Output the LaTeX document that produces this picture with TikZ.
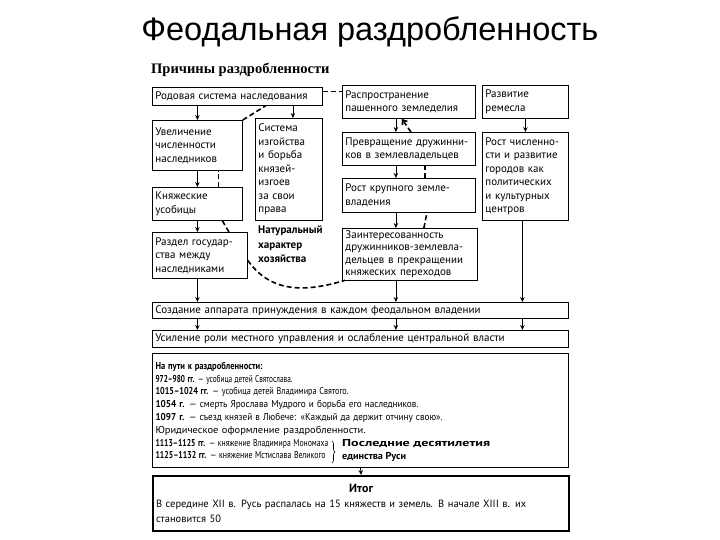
\documentclass[tikz,border=0pt]{standalone}
\usepackage{fontspec}
\setmainfont{PT Sans}
\newfontfamily\titelschrift{Liberation Sans}
\newfontfamily\kopfschrift{Liberation Serif}
\usepackage{graphicx}
\usepackage{tikz}
\usetikzlibrary{arrows.meta,positioning,calc,decorations.pathreplacing}
% Zeile auf feste Breite bringen
\newcommand{\zeile}[2]{\resizebox{#1}{\height}{#2}}
\tikzset{
    kasten/.style={
        rectangle,
        draw,
        anchor=north west,
        align=left,
        inner xsep=3pt,
        inner ysep=2pt,
        line width=0.8pt,
        font=\fontsize{11}{13.5}\selectfont
    },
    breitkasten/.style={kasten, text width=410pt, minimum width=416pt},
    pfeil/.style={-{Stealth[length=5pt,width=4.5pt]}, line width=0.8pt},
    strich/.style={dash pattern=on 5pt off 3pt, line width=1.6pt},
    strichpfeil/.style={strich, -{Straight Barb[length=4pt,width=6pt]}}
}

\begin{document}
\begin{tikzpicture}[x=1pt, y=-1pt]
    \useasboundingbox (0,0) rectangle (720,540);

    \node[font=\titelschrift\fontsize{32.5}{36}\selectfont] (titel) at (370,32)
        {Феодальная раздробленность};
    \node[anchor=west, inner sep=0pt, font=\kopfschrift\bfseries\fontsize{14.5}{16}\selectfont] (ursachen) at (151,70)
        {Причины раздробленности};

    % linke Spalte
    \node[kasten, text width=164pt, minimum width=170pt, minimum height=18pt] (rodovaya) at (152,87)
        {Родовая система наследования};
    \node[kasten, text width=84pt, minimum width=90pt, minimum height=50pt] (uvelich) at (152,120)
        {Увеличение\\численности\\наследников};
    \node[kasten, text width=61pt, minimum width=67pt, minimum height=102pt] (sistema) at (255,118)
        {Система\\изгойства\\и борьба\\князей-\\изгоев\\за свои\\права};
    \node[kasten, text width=84pt, minimum width=90pt, minimum height=33pt] (knyazh) at (152,187)
        {Княжеские\\усобицы};
    \node[kasten, text width=89pt, minimum width=95pt, minimum height=46pt] (razdel) at (152,232)
        {Раздел государ-\\ства между\\наследниками};
    \node[anchor=north west, inner sep=0pt, align=left,
          font=\bfseries\fontsize{11}{14.5}\selectfont] (natur) at (258,226)
        {Натуральный\\характер\\хозяйства};

    % mittlere Spalte
    \node[kasten, text width=127pt, minimum width=133pt, minimum height=33pt] (rasprostr) at (342,85)
        {Распространение\\пашенного земледелия};
    \node[kasten, text width=127pt, minimum width=133pt, minimum height=33pt] (prevrash) at (342,132)
        {Превращение дружинни-\\ков в землевладельцев};
    \node[kasten, text width=127pt, minimum width=133pt, minimum height=34pt] (rostkrup) at (342,178)
        {Рост крупного земле-\\владения};
    \node[kasten, text width=129pt, minimum width=135pt, minimum height=49pt,
          font=\fontsize{11}{12.5}\selectfont] (zainter) at (342,228)
        {Заинтересованность\\дружинников-землевла-\\дельцев в прекращении\\княжеских переходов};

    % rechte Spalte
    \node[kasten, text width=80pt, minimum width=86pt, minimum height=33pt] (razvitie) at (482,85)
        {Развитие\\ремесла};
    \node[kasten, text width=80pt, minimum width=86pt, minimum height=88pt] (rostchisl) at (482,132)
        {Рост численно-\\сти и развитие\\городов как\\политических\\и культурных\\центров};

    % breite Kaesten
    \node[breitkasten, minimum height=16pt] (sozdanie) at (152,302)
        {Создание аппарата принуждения в каждом феодальном владении};
    \node[breitkasten, minimum height=17pt] (usilenie) at (152,330)
        {Усиление роли местного управления и ослабление центральной власти};
    \node[breitkasten, minimum height=114pt, line width=1pt,
          font=\fontsize{10}{12.8}\selectfont] (puti) at (152,353)
        {\zeile{107pt}{\textbf{На пути к раздробленности:}}\\
         \zeile{137pt}{\textbf{972–980 гг.} — усобица детей Святослава.}\\
         \zeile{193pt}{\textbf{1015–1024 гг.} — усобица детей Владимира Святого.}\\
         \zeile{263pt}{\textbf{1054 г.} — смерть Ярослава Мудрого и борьба его наследников.}\\
         \zeile{287pt}{\textbf{1097 г.} — съезд князей в Любече: «Каждый да держит отчину свою».}\\
         \zeile{210pt}{Юридическое оформление раздробленности.}\\
         \zeile{173pt}{\textbf{1113–1125 гг.} — княжение Владимира Мономаха}\\
         \zeile{170pt}{\textbf{1125–1132 гг.} — княжение Мстислава Великого}};
    \node[anchor=north west, inner sep=0pt, align=left,
          font=\bfseries\fontsize{10}{12.8}\selectfont] (poslednie) at (342,439)
        {\zeile{148pt}{Последние десятилетия}\\\zeile{64pt}{единства Руси}};
    \draw[decorate, decoration={brace, amplitude=3pt}, line width=0.6pt]
        (332,441) -- (332,463);
    \node[breitkasten, minimum height=55pt, line width=2.2pt,
          font=\fontsize{10.5}{15}\selectfont] (itog) at (152,475)
        {\makebox[\linewidth]{\fontsize{12}{14}\selectfont\textbf{Итог}}\\
         \makebox[\linewidth][s]{В середине XII в. Русь распалась на 15 княжеств и земель. В начале XIII в. их}\\
         становится 50};

    % Pfeile
    \draw[pfeil] (uvelich.north |- rodovaya.south) -- (uvelich.north);
    \draw[pfeil] ([xshift=4pt]sistema.north |- rodovaya.south) -- ([xshift=4pt]sistema.north);
    \draw[pfeil] (uvelich.south) -- (knyazh.north);
    \draw[pfeil] (knyazh.south) -- (knyazh.south |- razdel.north);
    \draw[pfeil] (knyazh.south |- razdel.south) -- (knyazh.south |- sozdanie.north);
    \draw[pfeil] ([xshift=-13pt]rasprostr.south) -- ([xshift=-13pt]prevrash.north);
    \draw[pfeil] ([xshift=-13pt]prevrash.south) -- ([xshift=-13pt]rostkrup.north);
    \draw[pfeil] ([xshift=-13pt]rostkrup.south) -- ([xshift=-13pt]rostkrup.south |- zainter.north);
    \draw[pfeil] ([xshift=-13pt]rostkrup.south |- zainter.south) -- ([xshift=-13pt]rostkrup.south |- sozdanie.north);
    \draw[pfeil] (razvitie.south) -- (rostchisl.north);
    \draw[pfeil] ([xshift=-3pt]rostchisl.south) -- ([xshift=-3pt]rostchisl.south |- sozdanie.north);
    \draw[pfeil] (knyazh.south |- sozdanie.south) -- (knyazh.south |- usilenie.north);
    \draw[pfeil] ([xshift=-13pt]rostkrup.south |- sozdanie.south) -- ([xshift=-13pt]rostkrup.south |- usilenie.north);
    \draw[pfeil] ([xshift=-3pt]rostchisl.south |- sozdanie.south) -- ([xshift=-3pt]rostchisl.south |- usilenie.north);
    \draw[pfeil] (puti.south) -- (itog.north);

    % gestrichelte Verbindungen
    \draw[strich] ([yshift=5pt]rodovaya.east) -- ([yshift=5pt]rodovaya.east -| rasprostr.west);
    \draw[strich] (uvelich.north east) -- ($(rodovaya.south)!0.33!(rodovaya.south east)$);
    \draw[strich] ([xshift=21pt]knyazh.north) -- ([xshift=21pt]uvelich.south);
    \draw[strich] ([xshift=29pt]razdel.north) -- ([xshift=25pt]knyazh.south);
    \draw[strichpfeil] ([xshift=2pt]prevrash.north) -- ([xshift=-7pt]rasprostr.south);
    \draw[strich] ([xshift=16pt]rostkrup.north) -- ([xshift=16pt]prevrash.south);
    \draw[strich] ([xshift=14pt]zainter.north) -- ([xshift=18pt]rostkrup.south);
    \draw[strich] ([yshift=-5pt]razdel.east)
        .. controls ($(razdel.east)+(22pt,-36pt)$) and ($(zainter.south west)+(-40pt,-13pt)$)
        .. ([xshift=3pt]zainter.south west);
\end{tikzpicture}
\end{document}
